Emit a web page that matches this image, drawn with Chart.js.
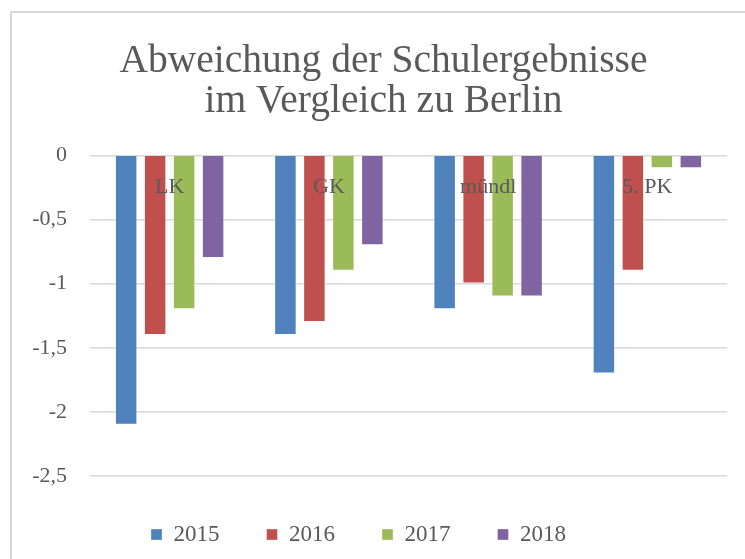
<!DOCTYPE html>
<html>
<head>
<meta charset="utf-8">
<script src="https://cdn.jsdelivr.net/npm/chart.js@4/dist/chart.umd.min.js"></script>
<style>
  html, body { margin: 0; padding: 0; background: #ffffff; overflow: hidden; }
  #frame { position: absolute; left: 10px; top: 11px; width: 800px; height: 620px; border: 2px solid #d9d9d9; box-sizing: border-box; }
  #wrap { position: absolute; left: 0; top: 0; width: 745px; height: 559px; }
</style>
</head>
<body>
<div id="frame"></div>
<div id="wrap"><canvas id="c" width="745" height="559"></canvas></div>
<script>
const categories = ['LK', 'GK', 'mündl', '5. PK'];
const seriesNames = ['2015', '2016', '2017', '2018'];
const values2015 = [-2.1, -1.4, -1.2, -1.7];
const values2016 = [-1.4, -1.3, -1.0, -0.9];
const values2017 = [-1.2, -0.9, -1.1, -0.1];
const values2018 = [-0.8, -0.7, -1.1, -0.1];
const titleLines = ['Abweichung der Schulergebnisse', 'im Vergleich zu Berlin'];

const colors = ['#4F81BD', '#C0504D', '#9BBB59', '#8064A2'];
const allValues = [values2015, values2016, values2017, values2018];
const textColor = '#595959';
const serif = "'Liberation Serif', 'DejaVu Serif', serif";

// shift the title so it is centred like in the (wider, cropped) original chart
const titleShift = {
  id: 'titleShift',
  beforeDraw(chart) {
    const t = chart.titleBlock;
    if (t && !t._shifted) { t.left += 25; t.right += 25; t._shifted = true; }
  }
};

new Chart(document.getElementById('c'), {
  type: 'bar',
  data: {
    labels: categories,
    datasets: seriesNames.map((name, i) => ({
      label: name,
      data: allValues[i],
      backgroundColor: colors[i],
      borderColor: 'rgba(255,255,255,0.35)',
      borderWidth: 1,
      categoryPercentage: 0.728,
      barPercentage: 0.776
    }))
  },
  plugins: [titleShift],
  options: {
    responsive: false,
    animation: false,
    devicePixelRatio: 1,
    layout: { padding: { left: -10, right: 18, top: 0, bottom: 3 } },
    plugins: {
      title: {
        display: true,
        text: titleLines,
        color: textColor,
        font: { family: serif, size: 39.5, weight: 'normal', lineHeight: 1.03 },
        padding: { top: 41, bottom: 33 }
      },
      legend: {
        position: 'bottom',
        labels: {
          color: textColor,
          font: { family: serif, size: 23 },
          boxWidth: 11,
          boxHeight: 11,
          padding: 47
        }
      },
      tooltip: { enabled: false }
    },
    scales: {
      x: {
        position: { y: 0 },
        grid: { display: false, drawTicks: false },
        border: { display: false },
        ticks: {
          z: 1,
          color: textColor,
          font: { family: serif, size: 22 },
          padding: 19
        }
      },
      y: {
        min: -2.5,
        max: 0,
        afterFit: (axis) => { axis.width = 100; },
        grid: { color: '#d9d9d9', lineWidth: 1.5, drawTicks: false },
        border: { display: false },
        ticks: {
          stepSize: 0.5,
          color: textColor,
          font: { family: serif, size: 22 },
          padding: 23,
          callback: (v) => String(v).replace('.', ',')
        }
      }
    }
  }
});
</script>
</body>
</html>
